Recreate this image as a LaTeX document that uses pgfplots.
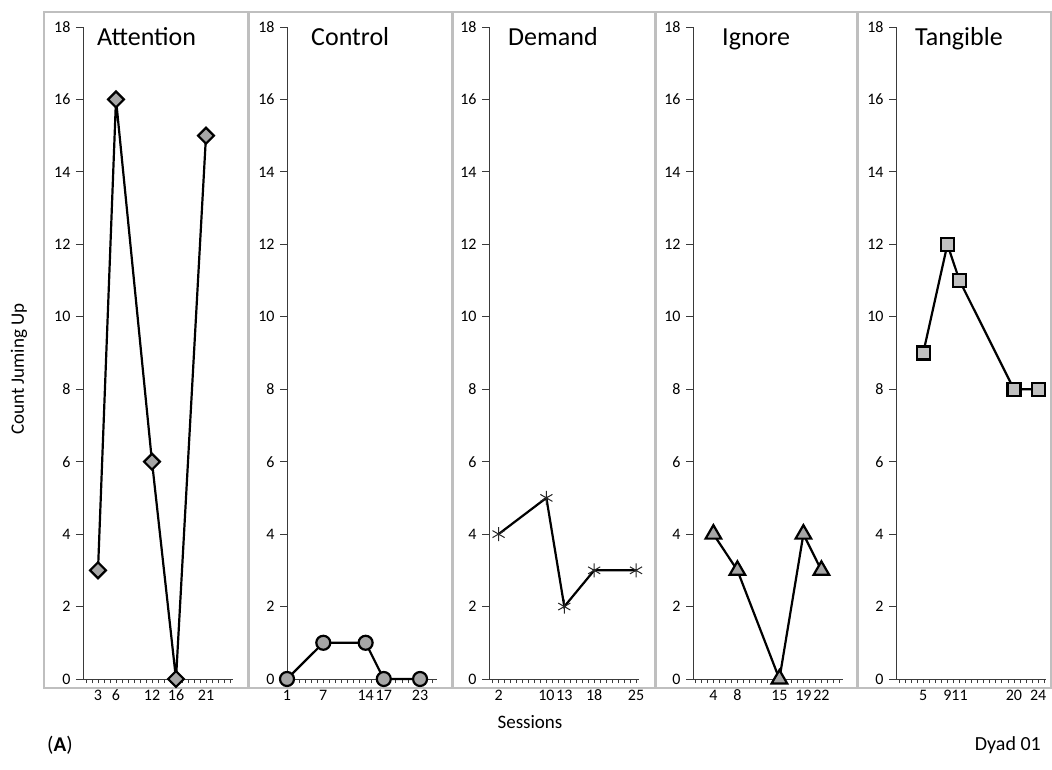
\documentclass[border=0pt]{standalone}
\usepackage{fontspec}
\setmainfont{Carlito}
\usepackage{pgfplots}
\pgfplotsset{compat=1.18}
\definecolor{frame}{HTML}{BFBFBF}
\definecolor{mfill}{HTML}{A6A6A6}
\definecolor{sqfill}{HTML}{C0C0C0}
\definecolor{medge}{HTML}{666666}
\definecolor{axc}{HTML}{3A3A3A}
\newcommand{\tlfont}{\fontsize{16}{19}\selectfont}
\pgfplotsset{
 every tick label/.append style={font=\tlfont},
 panel/.style={
  scale only axis, width=150pt, height=652pt, anchor=south west,
  ymin=0, ymax=18, ytick={0,2,...,18},
  axis x line=bottom, axis y line=left,
  axis line style={-, axc, line width=1pt},
  tick style={axc, line width=0.8pt},
  tick align=outside,
  major tick length=7pt, minor tick length=4pt,
  minor xtick={1,...,25},
  xtick=data,
  major x tick style={draw=none},
  /pgf/number format/assume math mode=true,
  xticklabel={\hbox{\tlfont\pgfmathprintnumber[assume math mode=true]{\tick}}},
  yticklabel={\hbox{\tlfont\pgfmathprintnumber[assume math mode=true]{\tick}}},
  xticklabel style={yshift=-1pt, text height=10pt, text depth=0pt},
  yticklabel style={xshift=-2pt},
  clip=false,
 },
 series/.style={black, line width=2.2pt, mark options={draw=medge, line width=0.8pt, solid}},
}
\begin{document}
\begin{tikzpicture}
\path[use as bounding box] (0,0) rectangle (1052pt,769pt);
\fill[white] (0,0) rectangle (1052pt,769pt);
% panel frames
\foreach \a/\b in {44/248, 249/452, 453/655, 656/857, 858/1051}{
  \draw[frame, line width=1.6pt] (\a pt,81pt) rectangle (\b pt,757pt);
}
% Attention
\begin{axis}[panel, at={(83pt,90pt)}, xmin=0.5, xmax=25.5]
\addplot[series, mark=square*, mark size=5.6pt, mark options={fill=mfill, rotate=45}] coordinates {(3,3) (6,16) (12,6) (16,0) (21,15)};
\end{axis}
% Control
\begin{axis}[panel, at={(287pt,90pt)}, xmin=1, xmax=25.8]
\addplot[series, mark=*, mark size=7pt, mark options={fill=mfill}] coordinates {(1,0) (7,1) (14,1) (17,0) (23,0)};
\end{axis}
% Demand
\begin{axis}[panel, at={(489pt,90pt)}, xmin=0.4, xmax=25.5]
\addplot[series, mark=asterisk, mark size=7pt, mark options={draw=black!85, line width=1pt}] coordinates {(2,4) (10,5) (13,2) (18,3) (25,3)};
\end{axis}
% Ignore
\begin{axis}[panel, at={(693pt,90pt)}, xmin=0.6, xmax=25.6]
\addplot[series, mark=triangle*, mark size=9pt, mark options={fill=mfill}] coordinates {(4,4) (8,3) (15,0) (19,4) (22,3)};
\end{axis}
% Tangible
\begin{axis}[panel, at={(896pt,90pt)}, xmin=0.5, xmax=25.3]
\addplot[series, mark=square*, mark size=6.5pt, mark options={fill=sqfill}] coordinates {(5,9) (9,12) (11,11) (20,8) (24,8)};
\end{axis}
% titles
\node[anchor=base west, inner sep=0, font=\fontsize{26}{30}\selectfont] at (97pt,723pt) {Attention};
\node[anchor=base west, inner sep=0, font=\fontsize{26}{30}\selectfont] at (311pt,723pt) {Control};
\node[anchor=base west, inner sep=0, font=\fontsize{26}{30}\selectfont] at (508pt,723pt) {Demand};
\node[anchor=base west, inner sep=0, font=\fontsize{26}{30}\selectfont] at (722pt,723pt) {Ignore};
\node[anchor=base west, inner sep=0, font=\fontsize{26}{30}\selectfont] at (915pt,723pt) {Tangible};
% labels
\node[rotate=90, inner sep=0, font=\fontsize{19}{22}\selectfont] at (19pt,400pt) {Count Juming Up};
\node[inner sep=0, font=\fontsize{19}{22}\selectfont] at (530pt,47pt) {Sessions};
\node[anchor=west, inner sep=0, font=\fontsize{21}{24}\selectfont] at (47pt,24pt) {(\textbf{A})};
\node[anchor=east, inner sep=0, font=\fontsize{20}{24}\selectfont] at (1041pt,24pt) {Dyad 01};
\end{tikzpicture}
\end{document}
